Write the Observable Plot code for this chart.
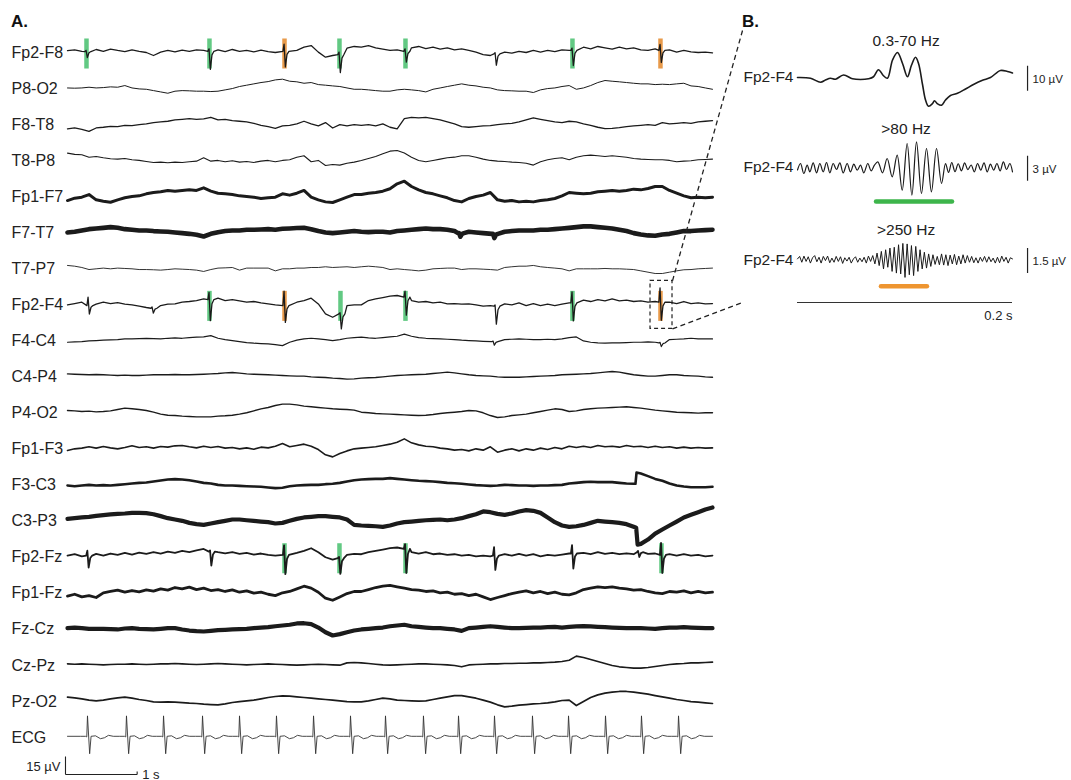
<!DOCTYPE html>
<html><head><meta charset="utf-8">
<script src="https://cdn.jsdelivr.net/npm/d3@7"></script>
<script src="https://cdn.jsdelivr.net/npm/@observablehq/plot@0.6"></script>
<style>
body{margin:0;background:#fff;}
#wrap{position:relative;width:1071px;height:780px;font-family:"Liberation Sans",Arial,sans-serif;}
.panel{position:absolute;font-weight:bold;font-size:17px;line-height:1;color:#111;}
#wrap svg{position:absolute;top:0;}
</style></head><body>
<div id="wrap">
<div class="panel" style="left:11px;top:13px">A.</div>
<div class="panel" style="left:742px;top:13px">B.</div>
</div>
<script>
// ---------- Panel A data (µV, one sample every 0.1 s, 0..9 s) ----------
const STEP = 0.1;
const ROW = 30; // µV between channel rows
const channels = ["Fp2-F8","P8-O2","F8-T8","T8-P8","Fp1-F7","F7-T7","T7-P7","Fp2-F4","F4-C4","C4-P4","P4-O2","Fp1-F3","F3-C3","C3-P3","Fp2-Fz","Fp1-Fz","Fz-Cz","Cz-Pz","Pz-O2","ECG"];

const v_Fp2F8 = [1.5,2.2,1,0.8,2.5,1,2.8,1.7,0.8,2.2,1,0,-2.5,0.3,1.7,0.5,2,1,2.2,1.7,1,2.2,0.8,2.5,1,1.7,0.5,2,0.8,0,1,-1.7,1.7,4.4,5.8,0.3,-3.9,-2.5,-1.7,3.6,5,4.4,5.8,3.9,2.8,1.7,2.2,1,3.9,5,3.3,4.4,2.8,3.9,2.2,3,1.7,0.3,-1.7,-2.5,-1.1,0.3,-0.5,1,0,1.7,0.3,1.7,0.8,2.2,1.7,1,4.4,3,5,3.9,2.8,4.4,3,3.9,2.2,1.7,3,1.7,2.2,0.3,1.7,0.5,0,0.3,-0.3];
const v_P8O2 = [0.5,0.3,0.5,1.1,0.5,0.8,1.4,1.1,2.5,0.5,-0.3,-0.6,-1.7,-2.8,-3.9,-2.2,-1.7,-1.9,-2.2,-2.2,-2.5,-2.2,-1.1,0,1.7,2.8,3.9,5,5.8,7.2,7.8,6.1,5.6,4.4,5,3.3,2.8,2.2,1.7,0.5,-0.6,-0.6,-1.1,-1.7,-2.2,-2.2,-1.1,-0.6,-1.1,-1.7,-2.8,-0.6,0.5,1.7,2.8,3.9,2.8,2.2,1.1,0.5,-1.1,-1.7,-1.9,-2.2,-2.2,-3.3,-1.1,0,0.5,1.7,2.5,-0.6,0.5,2.5,5,6.7,6.1,5.6,5,4.4,3.9,3.9,3.3,3.6,3.3,3.9,4.4,2.2,1.7,0.5,-0.6];
const v_F8T8 = [-3.6,-2.8,-3.9,-5.6,-2.8,-2.2,-1.4,-1.7,-0.6,-0.8,0,0.6,1.7,2.2,2.8,3.9,4.4,5,4.4,4.7,6.1,3.9,4.4,3.3,2.8,2.2,1.1,-0.6,-1.7,-3.1,-1.1,-0.6,0.6,2.8,0.6,-1.1,1.7,-2.8,0,-1.1,0,-0.6,0,-1.1,0.6,-2.2,-3.6,5,6.1,5.6,6.1,5,3.9,2.2,0.6,-1.7,-2.2,-1.7,-1.1,-0.8,0,0.6,1.1,2.2,3.9,5.6,4.4,3.3,2.2,1.7,2.8,2.2,0.6,-0.6,-2.2,-3.3,-3.1,-2.5,-1.7,-1.1,-0.6,0,-0.6,1.7,0.6,1.1,1.7,1.1,2.2,2.8,3.3];
const v_T8P8 = [6.3,5.2,4.9,2.9,3.5,2.4,1.6,1.3,1.8,0.7,0.2,-0.7,-1.5,-1.2,-1.8,-1.2,-1.5,-0.9,-0.4,2.4,-0.4,0.2,-0.9,-0.1,-1.2,-0.7,-1.5,-0.4,0.2,-0.9,0.2,0.7,2.9,4.1,-0.9,0.2,-4,-3.2,-3.7,-2.1,-1.2,0.2,1.8,3.5,5.7,7.9,8.5,6.3,2.9,0.2,-0.9,0.2,1.3,2.4,2.9,4.1,4.1,2.9,1.3,0.2,-0.4,-0.7,-1.2,-1.5,-2.1,-3.7,-0.9,0.7,1.8,2.4,0.7,2.9,4.1,4.6,4.1,3.5,4.1,3.5,2.9,1.8,1.3,1,0.7,0.7,0.2,-0.9,-0.4,-0.1,0.7,1,1.3];
const v_Fp1F7 = [-3.2,-1.2,-0.4,1.8,-2.6,-3.7,-4.6,-2.6,-0.9,0.2,0.7,2.4,3.5,4.1,5.2,4.6,5.2,5.7,5.2,7.4,4.6,2.9,2.4,1.8,0.7,0.2,-0.4,-1.5,-0.9,-0.4,2.4,1.3,2.9,5.2,-0.4,-2.6,-4.3,-4.8,-2.6,-0.4,1.8,1.8,2.9,3.5,4.6,6.6,10.7,12.9,8.5,5.7,3.5,2.4,0.7,-0.9,-3.2,-4.3,-1.5,0.2,1.3,3.5,-2.6,-3.7,-3.2,-4.3,-3.7,-4.3,-3.2,-2.6,-1.5,0.7,3.5,2.9,2.4,2.9,4.1,4.6,5.2,4.6,5.2,6.3,5.7,6.8,8.5,8.5,5.2,2.9,0.7,-0.9,-0.4,-0.9,-0.4];
const v_F7T7 = [0.2,0.8,1.9,3,3.6,4.1,4.7,4.1,3,2.5,1.9,1.9,1.4,1.1,0.8,0.2,-0.3,-0.9,-1.7,-3.1,-0.9,0.5,1.4,1.9,1.9,2.5,2.5,2.7,3,2.5,3.3,3.6,3.9,4.1,3,1.4,0.2,-0.3,0.2,0.8,1.4,0.8,0.5,0.8,0.8,0.2,1.4,1.9,2.5,3,3.6,3,3,2.5,1.4,-0.3,0.8,0.2,-0.3,-0.9,-0.9,0.8,1.4,1.9,1.9,1.9,2.5,2.5,3,3.6,4.1,4.7,5.3,5.3,4.7,4.1,3.6,2.5,1.4,-0.3,-1.4,-2.2,-2.5,-1.4,-0.9,0.2,1.4,1.4,1.9,2.2,2.5];
const v_T7P7 = [2.8,2.2,1.1,-0.6,0,0.6,0,0.6,0.3,0,-0.6,-0.6,-0.8,-1.1,-0.6,0,-0.3,-0.6,-1.1,-2.2,-0.6,0.6,0.8,1.1,-1.1,0.6,0.6,0.6,0.6,-1.7,0,0,0.6,0.6,1.1,1.1,1.7,1.1,1.4,1.7,1.1,1.7,2.2,1.7,1.1,-0.6,0,-0.6,-1.1,-1.7,-1.1,0,0.3,0.6,0.6,-0.6,0,0,-0.3,-0.6,-1.1,1.1,1.7,2.2,2.2,2.8,1.7,1.1,0.6,0,-1.7,0,0,0,0,0.3,0,0,-0.3,-0.6,-1.7,-2.8,-3.9,-3.9,-2.8,-1.7,-0.8,-0.6,0,0.3,0.6];
const v_Fp2F4 = [0,1.1,2.2,-0.6,0.6,2.2,1.1,1.9,0.6,0,-1.1,-2.2,-2.8,-0.6,0.6,0.8,2.2,2.8,3.6,5,4.4,5.6,3.6,4.4,3.3,2.2,2.8,1.7,0.8,0,-0.6,-0.6,2.2,3.6,5.6,0.8,-7.5,-10.3,-7.5,-0.6,0,0,3.6,5,6.1,7.2,7.8,6.4,3.6,2.2,2.8,1.7,2.2,0.8,1.1,0.6,0.8,0,-1.1,-0.6,-1.1,0.8,0,1.7,-0.6,1.1,-0.6,0.6,-0.6,0.6,1.7,2.2,3.9,2.8,4.4,3.3,5,3.3,3.9,2.8,3.3,2.2,2.8,2.2,2.2,1.1,2.8,1.1,1.7,0.8,1.1];
const v_F4C4 = [-1.1,-0.8,-0.6,0,0.3,0.6,0.8,1.1,1.7,1.7,1.9,2.2,1.9,1.7,2.2,2.5,2.2,2.8,3.1,3.3,4.4,2.2,1.1,0.3,-0.6,-1.4,-1.9,-2.2,-2.5,-3.1,-3.9,-1.1,0.6,1.7,2.2,1.7,1.1,0.3,1.1,2.2,2.8,3.1,2.5,2.2,2.8,3.3,3.9,5.6,3.9,2.8,2.2,1.9,1.7,1.4,1.1,0.6,0.3,0,-0.3,-0.6,0,1.1,1.4,1.7,1.4,1.1,1.1,1.4,1.1,1.7,2.8,3.3,0,-1.1,-1.7,-1.9,-1.7,-1.7,-1.4,-1.1,-1.1,-0.8,-1.1,-1.7,1.1,1.4,1.7,2.2,1.7,1.7,1.7];
const v_C4P4 = [2.6,2.3,2.1,1.8,2.1,1.8,1.5,1.2,1.5,1.2,1.2,1.5,1.8,1.8,1.8,2.1,1.8,1.8,2.1,2.3,2.6,2.9,3.4,3.7,3.2,2.6,2.3,2.1,1.8,1.5,1.2,0.9,0.7,0.7,0.1,-0.2,-0.4,-1,-1.3,-1.8,-1.6,-1,-0.7,-0.4,0.1,0.7,1.2,1.5,1.8,2.1,2.3,2.9,3.4,4,3.4,2.6,1.8,1.2,0.9,0.7,0.1,-0.2,-0.2,-0.2,0.1,0.4,0.7,0.9,1.2,1.8,2.1,2.3,2.6,2.9,3.4,4,4.6,4,2.9,1.8,1.2,0.7,0.7,1.2,1.8,1.8,1.2,0.9,0.7,0.1,-0.2];
const v_P4O2 = [2.1,1.8,1.3,1.6,1,1.3,1.8,2.9,4.1,3.5,2.9,2.1,0.7,-0.9,-1.8,-2.1,-2.6,-2.9,-3.2,-3.2,-3.2,-2.6,-2.3,-1.8,-0.9,0.2,1.8,3.5,4.6,6.3,7.4,7.4,6.8,5.7,5.2,4.6,4.1,3.5,3.2,2.9,2.4,0.7,0.2,-0.4,-0.7,-0.9,-1.2,-1.5,-1.8,-2.1,-1.8,-1.2,-0.4,0.2,0.7,1.3,2.1,1.8,0.2,-2.1,-3.7,-3.2,-2.1,-1.5,-0.9,0.2,1.3,2.4,3.5,2.9,1.3,1.8,2.9,3.5,4.1,4.3,4.6,4.9,5.2,4.6,4.1,3.2,2.4,1.8,1.3,0.7,0.4,0.2,-0.1,0.2,0.2];
const v_Fp1F3 = [-1.2,0.2,0.8,1.9,0.8,2.1,1,0.2,1.3,2.7,1.3,1.9,0.8,2.1,1.6,2.7,3,1.9,1,2.4,1.3,2.1,0.8,1.3,0.2,1,-0.1,1.6,1,2.4,4.6,1.9,3,4.1,2.4,-0.4,-4.8,-6.5,-3.7,-1.5,0.2,0.8,1.3,1.9,3,4.1,5.7,8.5,5.2,3.5,2.4,1.9,0.8,0.2,-0.9,-0.4,-1.5,0.2,-0.9,1.9,-2.6,-0.9,0.2,-1.5,0.2,-0.9,0.8,-0.4,1.3,0.2,2.4,1.3,2.4,1.3,3,1.9,2.4,1.6,3,1.9,2.4,1.3,2.4,1.3,1.9,0.8,1.6,0.8,1.3,0.8,1];
const v_F3C3 = [-0.3,-0.9,-0.3,0.2,-0.3,0,-0.3,0.2,0.8,1.4,1.9,2.2,3,3.9,4.7,5,4.7,4.1,3,1.9,1.4,0.2,-0.3,-0.3,-0.6,-0.9,-1.1,-1.4,-2,-2.5,-2.2,-0.9,-0.3,0,0.2,0.2,0.8,1.1,1.9,3,4.1,4.7,5,5.2,5.2,5.8,5.2,4.7,4.1,3.6,3.3,3,2.5,1.9,1.6,1.1,0.5,0,-0.3,-0.6,-0.3,0.2,0,-0.3,-0.3,-0.6,-0.3,-0.3,0,0.2,1.4,1.9,2.5,2.8,2.5,2.5,2.5,1.9,1.4,1.1,9.7,7.5,5.2,3.6,1.4,-0.3,-1.1,-1.7,-1.7,-1.7,-1.4];
const v_C3P3 = [1.9,2.5,3.1,3.6,4.4,5,5.6,6.1,6.4,6.9,6.9,6.7,5.8,4.2,2.5,1.4,0.3,-1.4,-2.5,-3.1,-1.9,-0.8,0.3,1.4,1.4,0.8,0.3,-0.3,-0.8,-1.9,-1.4,0.3,1.9,3.1,3.6,4.2,4.2,3.6,3.1,1.4,-3.1,-3.6,-3.9,-4.2,-4.7,-3.6,-1.9,-0.8,-0.3,0.3,0.8,1.1,1.4,0.8,1.4,2.5,4.2,5.8,8.1,7.5,6.1,5.3,6.4,8.1,9.2,8.6,6.9,3.1,-0.8,-3.6,-4.7,-4.2,-3.1,-1.4,0.3,-0.3,-0.8,-1.4,-2.5,-4.7,-18.9,-15.3,-10.3,-6.9,-3.6,-0.3,3.1,5.3,7.5,9.7,11.4];
const v_Fp2Fz = [1.4,2.5,0.8,1.4,2.8,1.4,3.1,1.9,3.6,2.2,3.9,2.8,4.2,3.1,4.7,3.6,5.3,4.2,5.8,6.9,4.7,4.2,3.3,4.2,2.8,3.6,2.2,3.1,1.9,1.4,1.9,1.4,3.6,5.3,7.5,4.2,0,-1.9,-0.8,1.9,2.8,2.5,4.2,5.3,6.4,7.5,8.1,6.9,4.2,3.1,4.2,2.5,3.1,1.9,2.5,1.4,1.9,0.8,1.4,0.8,1.4,2.5,1.4,2.8,1.4,2.5,0.8,1.9,1.4,2.2,3.1,2.5,3.6,2.5,4.2,2.8,3.6,2.5,3.3,2.5,4.2,2.8,3.1,1.9,2.5,1.4,2.5,1.4,1.9,0.8,1.4];
const v_Fp1Fz = [-2.4,-0.8,-3,-1.9,-3.5,0.4,1.5,2.6,0.9,2.3,1.2,2.9,1.8,3.7,2.6,4.8,3.7,5.1,3.1,4.3,2.3,3.1,1.5,2.9,0.9,2,0.1,0.9,-0.8,-1.9,0.4,1.5,3.7,5.9,4.3,0.9,-4.1,-5.8,-3,-0.2,1.5,1.5,3.1,4.8,5.9,6.5,5.4,4.3,3.1,2.6,1.5,2,0.4,0.9,-0.8,-0.2,-1.9,-0.8,-3,-5.2,-3.5,-1.9,-0.2,0.9,2,0.4,1.5,-0.2,0.9,-0.8,-1.3,0.4,3.1,4.3,5.4,4.8,5.4,4.3,3.7,2.6,3.1,1.5,0.4,-0.2,1.5,0.9,2,0.4,1.5,0.4,0.9];
const v_FzCz = [1,1.5,1,0.4,0.4,0.4,0.1,-0.1,0.7,1,0.4,0.1,-0.1,0.4,1,1,-0.1,-1,-1.5,-1.8,-1.3,-0.7,-0.4,-0.1,0.1,0.4,1,1.5,1.8,2.6,3.2,3.8,4.9,5.1,4.3,1.5,-2.4,-5.1,-4,-2.4,-1,-0.1,0.4,1,1.5,2.6,3.2,3.8,2.6,2.1,1.5,1,1,0.4,-0.1,-1.3,1,1.5,2.1,2.6,2.1,1.5,1,1,1.3,1.5,1.5,1.8,2.1,1.5,2.1,2.4,2.6,2.4,2.1,1.8,1.5,1.3,1,1,1,0.7,0.4,1,1.5,1.5,1.8,1.5,1.3,1,1];
const v_CzPz = [1.3,1,1.3,1,0.7,0.4,0.7,1,1,1.3,1,0.7,1,1.3,1.3,1.6,1.3,1,0.7,1,1.3,1.6,1.3,1,0.7,0.4,0.7,1,1.3,1,0.7,0.4,0.2,0.4,0.7,1,0.7,0.4,0.2,2.1,2.4,2.1,1.6,1,0.4,0.2,0.4,0.7,1,1.3,1.3,1,0.7,0.4,-0.1,-1.2,0.4,0.7,1,1.3,1.3,1.6,1.6,1.8,1.8,2.1,2.1,2.4,2.7,3.2,4.3,7.7,6.6,4.9,3.2,1.6,-0.1,-1.2,-1.8,-2.3,-2.3,-1.8,-0.9,-0.1,0.7,1.3,1.6,2.1,2.1,2.4,2.7];
const v_PzO2 = [3.6,3,2.2,1.1,0.5,1.1,2.2,3,3.6,2.7,1.6,0.8,-0.3,-0.6,-0.3,-0.6,-0.9,-1.4,-1.7,-2.3,-2.6,-2.8,-2,-0.9,-0.1,0.5,1.1,2.2,3.3,4.1,4.7,4.4,3.8,3.3,2.7,2.2,1.6,1.1,0.5,-0.1,-0.3,-0.3,0.5,1.6,2.7,2.2,1.1,0.8,0.5,0.2,0.5,1.6,2.7,3.8,4.9,4.9,3.8,2.7,1.1,-0.6,-2.8,-4.5,-3.9,-3.1,-2.6,-2,-1.7,-1.2,-0.3,0.8,1.1,-3.4,-0.1,3.3,5.5,6.9,7.7,8.3,8.3,7.7,6.9,6.1,4.9,3.8,2.7,1.6,0.8,-0.1,-0.6,-1.2,-1.7];

// sharp spikes: [time s, upward µV, downward µV]
const spk_Fp2F8 = [[0.265,1,5],[1.981,2,15],[3.028,6,13],[3.795,2,15],[4.716,2,9],[5.972,1,9.5],[7.046,2,12.5],[8.274,5,10]];
const spk_F7T7  = [[5.47,0,3],[5.944,0,3.5]];
const spk_Fp2F4 = [[0.293,7,7],[1.186,1,4],[1.981,6,17.5],[3.028,12,14],[3.809,1,12.5],[4.716,5,15],[5.972,1,15],[7.046,9,15],[8.274,12,15]];
const spk_F4C4  = [[5.944,0.5,3],[8.274,0.5,3]];
const spk_Fp2Fz = [[0.283,4,10],[1.995,1,11.7],[3.028,8,16],[3.795,1,13],[4.716,4,20],[5.958,7,12],[7.046,7,12.5],[7.967,1,4],[8.288,10,15]];
// steep steps: [time s, µV]
const step_F3C3 = [[7.925,1.1],[7.94,10.5]];
const step_C3P3 = [[7.935,-5.5],[7.955,-19.5]];

// HFO marks (green = ripple, orange = fast ripple)
const ripple_Fp2F8 = [0.265,1.981,3.795,4.716,7.046];
const fast_Fp2F8   = [3.028,8.274];
const ripple_Fp2F4 = [1.981,3.809,4.716,7.046];
const fast_Fp2F4   = [3.028,8.274];
const ripple_Fp2Fz = [3.028,3.795,4.716,8.288];

// ECG: R-peak times and beat shape
const ecgBeats = [0.279,0.823,1.340,1.884,2.400,2.916,3.433,3.949,4.437,4.967,5.456,5.958,6.488,6.991,7.507,8.009,8.526];
const ecgTplT = [-0.1,-0.028,-0.01,0,0.03,0.05,0.112,0.181,0.237,0.293,0.36];
const ecgTplV = [1,1,0.5,18,-13.5,1,1.4,-1,-0.2,1.8,1];

const strokeW = [1.3,1.0,1.3,1.1,3.0,4.6,0.9,1.3,1.2,1.4,1.4,1.6,2.6,4.2,1.8,2.8,4.2,1.6,1.7];

// zoomed window and scale bar
const zoomWin = {t1: 8.135, t2: 8.442, row: 7, half: 20};
const connectors = [{x1: 8.442, y1: 190, x2: 9.419, y2: -18.3}, {x1: 8.442, y1: 230, x2: 9.419, y2: 208}];
const scaleA = {sec: 1, uv: 15, t0: -0.028, y0: 600.8};

// ---------- build ----------
const eeg = [v_Fp2F8,v_P8O2,v_F8T8,v_T8P8,v_Fp1F7,v_F7T7,v_T7P7,v_Fp2F4,v_F4C4,v_C4P4,v_P4O2,v_Fp1F3,v_F3C3,v_C3P3,v_Fp2Fz,v_Fp1Fz,v_FzCz,v_CzPz,v_PzO2];
const spikesByRow = {0: spk_Fp2F8, 5: spk_F7T7, 7: spk_Fp2F4, 8: spk_F4C4, 14: spk_Fp2Fz};
const stepsByRow = {12: step_F3C3, 13: step_C3P3};

function buildRow(i) {
  const vals = eeg[i], sp = spikesByRow[i] || [], ex = stepsByRow[i] || [];
  let pts = vals.map((v, k) => ({t: k * STEP, v}))
    .filter(p => !sp.some(s => p.t > s[0] - 0.045 && p.t < s[0] + 0.075));
  for (const [ts, up, down] of sp) {
    const base = vals[Math.round(ts / STEP)];
    pts.push({t: ts - 0.022, v: base}, {t: ts - 0.006, v: base + up}, {t: ts + 0.012, v: base - down},
             {t: ts + 0.035, v: base - 0.2 * down}, {t: ts + 0.062, v: base});
  }
  for (const [t, v] of ex) pts.push({t, v});
  pts.sort((a, b) => a.t - b.t);
  return pts.map(p => ({t: p.t, y: i * ROW - p.v}));
}

const ecgPts = [{t: 0, v: 1}];
for (const b of ecgBeats) ecgTplT.forEach((dt, j) => ecgPts.push({t: b + dt, v: ecgTplV[j]}));
ecgPts.push({t: 9, v: 1});
const ecgRow = 19;
const ecgData = ecgPts.filter(p => p.t >= 0 && p.t <= 9).map(p => ({t: p.t, y: ecgRow * ROW - p.v}));

const markRows = (times, row) => times.map(t => ({t, row}));
const greenMarks = [...markRows(ripple_Fp2F8, 0), ...markRows(ripple_Fp2F4, 7), ...markRows(ripple_Fp2Fz, 14)];
const orangeMarks = [...markRows(fast_Fp2F8, 0), ...markRows(fast_Fp2F4, 7)];

const FONT = '"Liberation Sans", Arial, sans-serif';
const INK = "#1b1b1b";

const marksA = [
  Plot.ruleX(greenMarks, {x: "t", y1: d => d.row * ROW - 11.25, y2: d => d.row * ROW + 13.75, stroke: "#62c983", strokeWidth: 4.5}),
  Plot.ruleX(orangeMarks, {x: "t", y1: d => d.row * ROW - 11.25, y2: d => d.row * ROW + 13.75, stroke: "#e89a4a", strokeWidth: 4.5}),
  ...eeg.map((_, i) => Plot.line(buildRow(i), {x: "t", y: "y", stroke: INK, strokeWidth: strokeW[i], strokeLinejoin: "round"})),
  Plot.line(ecgData, {x: "t", y: "y", stroke: "#333", strokeWidth: 0.9}),
  Plot.text(channels, {y: (d, i) => i * ROW, text: d => d, frameAnchor: "left", dx: -56, textAnchor: "start", fontSize: 16, fill: "#222"}),
  Plot.rect([zoomWin], {x1: "t1", x2: "t2", y1: d => d.row * ROW - d.half, y2: d => d.row * ROW + d.half, fill: "none", stroke: "#222", strokeWidth: 1.2, strokeDasharray: "4,3"}),
  Plot.link(connectors, {x1: "x1", y1: "y1", x2: "x2", y2: "y2", stroke: "#222", strokeWidth: 1.3, strokeDasharray: "5,3.5"}),
  Plot.link([scaleA], {x1: "t0", x2: "t0", y1: d => d.y0 - d.uv, y2: "y0", stroke: "#222", strokeWidth: 1.1}),
  Plot.link([scaleA], {x1: "t0", x2: d => d.t0 + d.sec, y1: "y0", y2: "y0", stroke: "#222", strokeWidth: 1.1}),
  Plot.link([scaleA], {x1: d => d.t0 + d.sec, x2: d => d.t0 + d.sec, y1: d => d.y0 - 2.5, y2: "y0", stroke: "#222", strokeWidth: 1.1}),
  Plot.text([scaleA], {x: "t0", y: d => d.y0 - d.uv * 0.45, text: d => `${d.uv} µV`, textAnchor: "end", dx: -5, fontSize: 13, fill: "#222"}),
  Plot.text([scaleA], {x: d => d.t0 + d.sec, y: "y0", text: d => `${d.sec} s`, textAnchor: "start", dx: 5, fontSize: 13, fill: "#222"})
];

const plotA = Plot.plot({
  width: 1071, height: 780,
  marginLeft: 67, marginRight: 359, marginTop: 52, marginBottom: 43,
  x: {domain: [0, 9], axis: null},
  y: {domain: [0, 19 * ROW], reverse: true, axis: null},
  style: {fontFamily: FONT, background: "transparent", overflow: "visible"},
  marks: marksA
});
plotA.style.left = "0px";
document.getElementById("wrap").appendChild(plotA);

// ---------- Panel B data ----------
// 0.3-70 Hz (µV) at irregular times (ms)
const bTopT = [0,12.1,21.4,26,30.7,35.3,42.8,51.2,58.6,66,70.7,75.3,80,83.7,88.4,93,97.7,102.3,106,109.8,112.6,116.3,119.1,121.9,125.6,127.4,130.2,134,137.7,142.3,148.8,156.3,163.7,172.1,179.5,188.8,195.3,200];
const bTopV = [0,-0.3,-1.9,-1,-0.3,-0.7,1,-0.5,-0.8,-0.5,0.3,3.1,0.7,-0.3,7,10,5.6,0.3,4.9,8.1,5.6,-2.8,-9,-11.5,-10.4,-9.3,-10.5,-11.1,-9,-7.2,-6.3,-4.6,-2.8,-1.1,0,2.8,2.4,1.8];
// >80 Hz (µV)
const bMidT = [0,2.8,5.9,9,11.5,14.6,17.7,20.8,23.9,27,30.1,33.2,36.3,39.4,42.5,46.2,49.3,52.4,55.5,58.6,61.7,65.4,68.5,71.6,74.7,79.1,83.4,88.1,92.7,97.4,102,106.4,110.7,115.3,120,124.6,129.3,134,137.7,140.5,143.5,146.5,149.5,152.5,155.5,158.5,161.5,164.5,167.5,170.5,173.5,176.5,179.5,182.5,185.5,188.5,191.5,194.5,197.5,200];
const bMidV = [-0.3,0.48,-0.72,0.28,-0.52,0.56,-0.64,0.48,-0.52,0.6,-0.64,0.48,-0.24,0.56,-0.64,0.48,-0.52,0.4,-0.32,0.28,-0.64,0.48,-0.4,0.28,0.68,-0.64,1.08,-1.12,1.48,-2.72,2.88,-3.32,3.08,-3.12,2.28,-2.92,2.28,-1.92,0.48,-0.6,0.6,-0.5,0.45,-0.4,0.55,-0.25,0.3,-0.52,0.48,-0.32,0.56,-0.52,0.4,-0.32,0.48,-0.4,0.68,-0.24,0.48,-0.52];
// >250 Hz (µV), one sample every 2 ms
const B_STEP = 2;
const bLowV = [0.05,0.2,-0.15,0.22,-0.1,0.18,-0.2,0.12,0.25,-0.12,0.15,-0.2,0.2,-0.05,0.22,-0.18,0.1,-0.15,0.2,-0.1,0.18,-0.22,0.12,-0.08,0.15,-0.2,0.05,0.18,-0.15,0.1,-0.12,0.15,-0.2,0.22,-0.1,0.25,-0.25,0.4,-0.35,0.5,-0.55,0.6,-0.45,0.7,-0.7,0.75,-0.8,0.9,-0.85,0.98,-1.06,0.95,-0.9,0.85,-0.95,0.8,-0.7,0.6,-0.55,0.45,-0.5,0.35,-0.4,0.3,-0.28,0.2,-0.3,0.35,-0.32,0.3,-0.35,0.28,-0.25,0.32,-0.3,0.22,-0.25,0.3,-0.2,0.25,-0.15,0.2,-0.18,0.12,-0.2,0.15,-0.1,0.2,-0.15,0.18,-0.12,0.1,-0.2,0.15,-0.18,0.22,-0.1,0.15,-0.2,0.12,0.05];

const bTitles = ["0.3-70 Hz", ">80 Hz", ">250 Hz"];
const bTitleY = [-1.45, 2.05, 6.12];
const bBase = [0, 3.6, 7.29];
const bScaleUV = [10, 3, 1.5];
const rippleSpan = [73.5, 144.2];
const fastSpan = [78.1, 120.9];
const bSpanY = [4.96, 8.35];
const bWindowMs = 200;

const toRows = (ts, vs, r) => ts.map((t, k) => ({t, y: bBase[r] - vs[k] / bScaleUV[r]}));
const topData = toRows(bTopT, bTopV, 0);
const midData = toRows(bMidT, bMidV, 1);
const lowData = toRows(bLowV.map((_, k) => k * B_STEP), bLowV, 2);
const bRows = bTitles.map((title, r) => ({title, ty: bTitleY[r], base: bBase[r], uv: bScaleUV[r]}));

const plotB = Plot.plot({
  width: 356, height: 330,
  marginLeft: 82, marginRight: 59, marginTop: 2, marginBottom: 3,
  x: {domain: [0, bWindowMs], axis: null},
  y: {domain: [-3, 10], reverse: true, axis: null},
  style: {fontFamily: FONT, background: "transparent", overflow: "visible"},
  marks: [
    Plot.line(topData, {x: "t", y: "y", stroke: INK, strokeWidth: 1.6, curve: "catmull-rom"}),
    Plot.line(midData, {x: "t", y: "y", stroke: INK, strokeWidth: 1.2, curve: "catmull-rom"}),
    Plot.line(lowData, {x: "t", y: "y", stroke: INK, strokeWidth: 1.0}),
    Plot.ruleY([{y: bSpanY[0], x1: rippleSpan[0], x2: rippleSpan[1]}], {y: "y", x1: "x1", x2: "x2", stroke: "#3db54b", strokeWidth: 4.5, strokeLinecap: "round"}),
    Plot.ruleY([{y: bSpanY[1], x1: fastSpan[0], x2: fastSpan[1]}], {y: "y", x1: "x1", x2: "x2", stroke: "#ee9530", strokeWidth: 4.5, strokeLinecap: "round"}),
    Plot.text(bRows, {x: bWindowMs / 2 + 1, y: "ty", text: "title", fontSize: 15.5, fill: "#222"}),
    Plot.text(bRows, {x: 0, y: "base", text: () => "Fp2-F4", textAnchor: "end", dx: -4, fontSize: 15.5, fill: "#222"}),
    Plot.ruleX(bRows, {x: bWindowMs + 14, y1: d => d.base - 0.45, y2: d => d.base + 0.55, stroke: "#222", strokeWidth: 1.2}),
    Plot.text(bRows, {x: bWindowMs + 14, y: d => d.base + 0.08, text: d => `${d.uv} µV`, textAnchor: "start", dx: 5, fontSize: 11.5, fill: "#222"}),
    Plot.ruleY([9.0], {x1: 0, x2: bWindowMs, stroke: "#333", strokeWidth: 1}),
    Plot.text([bWindowMs], {x: d => d, y: 9.55, text: d => `${d / 1000} s`, textAnchor: "end", fontSize: 13, fill: "#222"})
  ]
});
plotB.style.left = "715px";
document.getElementById("wrap").appendChild(plotB);
</script>
</body></html>
